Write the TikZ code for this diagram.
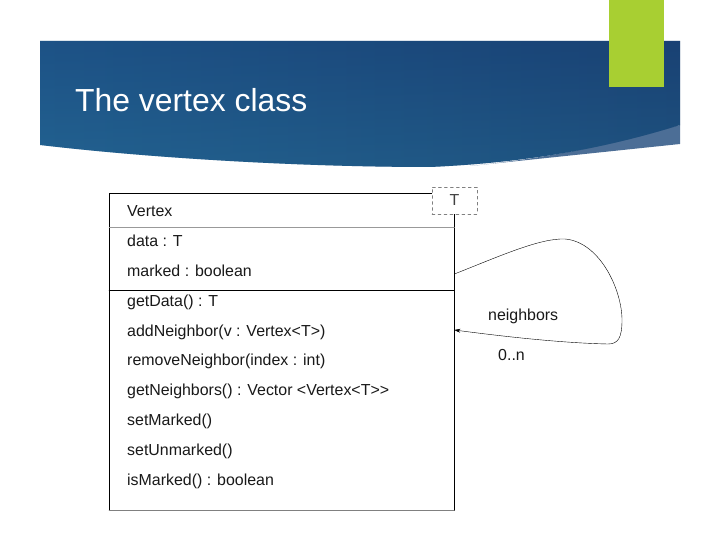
\documentclass[tikz,border=0pt]{standalone}
\usepackage{fontspec}
\setmainfont{Liberation Sans}
\usetikzlibrary{arrows.meta}

\definecolor{banddark}{HTML}{1D5286}
\definecolor{bandteal}{HTML}{3192AF}
\definecolor{bandright}{HTML}{183C6E}
\definecolor{bandwedge}{HTML}{4C6E96}
\definecolor{accentgreen}{HTML}{A8CF32}

\tikzset{
  member/.style={anchor=base west, inner sep=0pt, text=black!90,
    font=\fontsize{16}{19}\selectfont},
}

\begin{document}
\begin{tikzpicture}[x=1bp,y=-1bp,line cap=round]
    \useasboundingbox[fill=white] (0,0) rectangle (720,540);
    % title band
    \fill[bandwedge] (470,166) .. controls (580,155) and (640,135) .. (680,125) -- (680,144) -- cycle;
    \shade[left color=banddark, middle color=bandteal, right color=bandright]
      (40,41) -- (680,41) -- (680,125) .. controls (600,150) and (520,163) .. (430,167)
      .. controls (300,167) and (150,158) .. (40,145) -- cycle;
    \shade[top color=banddark, bottom color=bandteal, opacity=.25]
      (40,41) -- (680,41) -- (680,125) .. controls (600,150) and (520,163) .. (430,167)
      .. controls (300,167) and (150,158) .. (40,145) -- cycle;
    \fill[accentgreen] (609,0) rectangle (664,87);
    \node[anchor=base west, inner sep=0pt, text=white, font=\fontsize{32}{38}\selectfont]
      (title) at (75,112) {The vertex class};

    % class box
    \node[draw, anchor=north west, inner sep=0pt, minimum width=345bp, minimum height=317bp]
      (vertex) at (109,193) {};
    \draw[gray] (vertex.south west) -- (vertex.south east);
    \draw[gray!80] (vertex.west |- 0,227) -- (vertex.east |- 0,227);
    \draw (vertex.west |- 0,290) -- (vertex.east |- 0,290);
    \node[draw=gray, dashed, fill=white, minimum width=45bp, minimum height=27bp, inner sep=0pt,
      text=black!75, font=\fontsize{16}{19}\selectfont] (tparam) at (454.5,200.5) {T};

    \node[member] (classname) at (127,217) {Vertex};
    \foreach \y/\txt [count=\i] in {247/{data : T}, 277/{marked : boolean},
        306/{getData() : T}, 336/{addNeighbor(v : Vertex<T>)},
        365/{removeNeighbor(index : int)}, 395/{getNeighbors() : Vector <Vertex<T>{}>},
        425/{setMarked()}, 455/{setUnmarked()}, 485/{isMarked() : boolean}}
      \node[member] (m\i) at (127,\y) {\txt};

    % self association
    \coordinate (selfout) at (vertex.east |- 0,274);
    \coordinate (selfin) at (vertex.east |- 0,330);
    \draw[thin, -{Stealth[length=6bp,width=4bp]}] (selfout)
      .. controls (500,256) and (540,238) .. (565,239)
      .. controls (600,242) and (622,290) .. (622,320)
      .. controls (622,338) and (618,344) .. (608,344)
      .. controls (560,343) and (500,336) .. (selfin);
    \node[member] (rolename) at (488,320) {neighbors};
    \node[member] (multiplicity) at (498,360) {0..n};
\end{tikzpicture}
\end{document}
